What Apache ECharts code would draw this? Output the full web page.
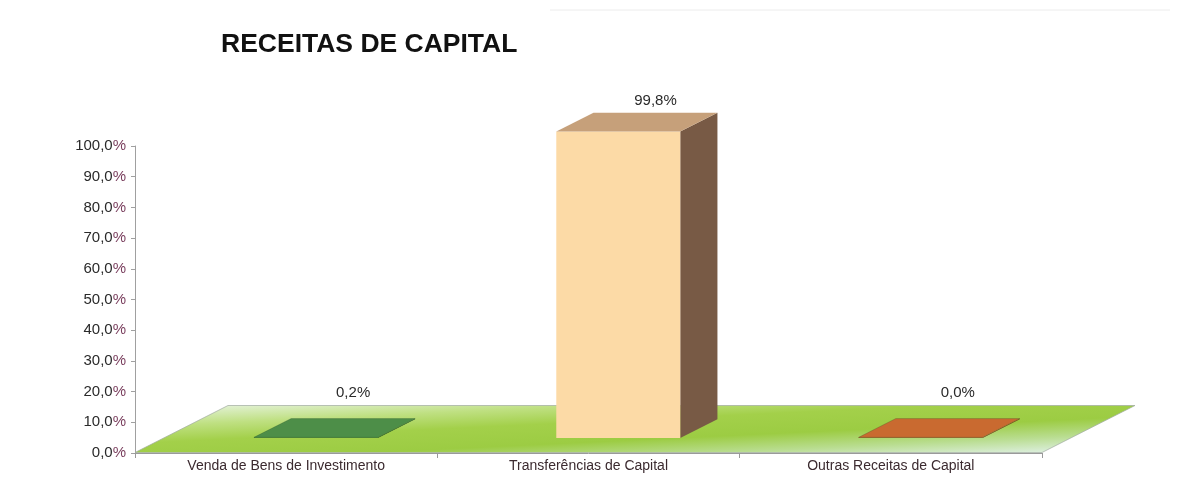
<!DOCTYPE html>
<html>
<head>
<meta charset="utf-8">
<script src="https://cdn.jsdelivr.net/npm/echarts@6/dist/echarts.min.js"></script>
<style>
  html, body { margin: 0; padding: 0; background: #ffffff; }
  #chart { width: 1181px; height: 501px; }
</style>
</head>
<body>
<div id="chart"></div>
<script>
// ---- data ----
const titleText = 'RECEITAS DE CAPITAL';
const categories = ['Venda de Bens de Investimento', 'Transferências de Capital', 'Outras Receitas de Capital'];
const values = [0.2, 99.8, 0.0];
const valueLabels = ['0,2%', '99,8%', '0,0%'];
const yTickValues = [0, 10, 20, 30, 40, 50, 60, 70, 80, 90, 100];
const yTickLabels = ['0,0%', '10,0%', '20,0%', '30,0%', '40,0%', '50,0%', '60,0%', '70,0%', '80,0%', '90,0%', '100,0%'];

// ---- styles ----
const palettes = [
  { front: '#3f7b3b', top: '#4d8e48', side: '#2f5f2c' },
  { front: '#fcdaa6', top: '#c6a07a', side: '#785a45' },
  { front: '#a9521f', top: '#c96a30', side: '#86421a' }
];
const FONT = 'Liberation Sans, Arial, sans-serif';
const FLOOR_DEPTH = [93, -47];      // screen vector of the full floor depth
const BAR_FRONT = 0.32;             // bar front plane (fraction of depth)
const BAR_BACK = 0.72;              // bar back plane
const BAR_WIDTH = 0.41;             // fraction of category width

const chart = echarts.init(document.getElementById('chart'), null, { renderer: 'canvas' });

function renderFloor(params, api) {
  const cs = params.coordSys;
  const p0 = api.coord([0, 0]);
  const yFront = p0[1] - 0.5;
  const xl = cs.x, xr = cs.x + cs.width;
  const dx = FLOOR_DEPTH[0], dy = FLOOR_DEPTH[1];
  const pts = [[xl, yFront], [xr, yFront], [xr + dx, yFront + dy], [xl + dx, yFront + dy]];
  const ax = pts[0][0], ay = pts[0][1], bx = pts[2][0], by = pts[2][1];
  const len = Math.hypot(bx - ax, by - ay);
  const nx = -(by - ay) / len, ny = (bx - ax) / len;
  const mx = (ax + bx) / 2, my = (ay + by) / 2;
  const d = 46;
  const grad = new echarts.graphic.LinearGradient(
    mx - nx * d, my - ny * d, mx + nx * d, my + ny * d,
    [
      { offset: 0, color: '#e8f4e2' },
      { offset: 0.22, color: '#bfe082' },
      { offset: 0.4, color: '#a3d04a' },
      { offset: 0.62, color: '#9ccc43' },
      { offset: 0.8, color: '#b9dd90' },
      { offset: 1, color: '#e4f3ef' }
    ], true);
  return {
    type: 'polygon',
    shape: { points: pts },
    style: { fill: grad, stroke: 'rgba(160,170,160,0.7)', lineWidth: 1 },
    silent: true
  };
}

function renderBar(params, api) {
  const i = api.value(0);
  const v = api.value(1);
  const base = api.coord([i, 0]);
  const top = api.coord([i, v]);
  const cw = api.size([1, 0])[0];
  const w = cw * BAR_WIDTH;
  const fx = FLOOR_DEPTH[0] * BAR_FRONT, fy = FLOOR_DEPTH[1] * BAR_FRONT;
  const bx = FLOOR_DEPTH[0] * (BAR_BACK - BAR_FRONT), by = FLOOR_DEPTH[1] * (BAR_BACK - BAR_FRONT);
  const x0 = base[0] - w / 2 + fx, x1 = x0 + w;
  const yb = base[1] + fy;
  const yt = Math.min(top[1] + fy, yb - 0.6);
  const pal = palettes[params.dataIndex];
  const small = (yb - yt) < 10;
  const children = [];
  children.push({
    type: 'polygon',
    shape: { points: [[x1, yb], [x1 + bx, yb + by], [x1 + bx, yt + by], [x1, yt]] },
    style: { fill: pal.side }
  });
  children.push({
    type: 'rect',
    shape: { x: x0, y: yt, width: w, height: yb - yt },
    style: { fill: pal.front }
  });
  children.push({
    type: 'polygon',
    shape: { points: [[x0, yt], [x1, yt], [x1 + bx, yt + by], [x0 + bx, yt + by]] },
    style: { fill: pal.top, stroke: small ? 'rgba(40,80,40,0.25)' : null, lineWidth: 1 }
  });
  // label centred above the back edge of the top face
  const lx = x0 + w / 2 + bx;
  const ly = yt + by - (small ? 26 : 12);
  children.push({
    type: 'text',
    style: {
      text: valueLabels[params.dataIndex],
      x: lx, y: ly,
      align: 'center', verticalAlign: 'middle',
      font: '15px ' + FONT,
      fill: '#2a2a2a'
    }
  });
  return { type: 'group', children: children };
}

const option = {
  backgroundColor: '#ffffff',
  animation: false,
  title: {
    text: titleText,
    left: 216,
    top: 26,
    textStyle: { fontFamily: FONT, fontSize: 26.5, fontWeight: 'bold', color: '#111111' }
  },
  graphic: [{
    type: 'line',
    shape: { x1: 550, y1: 10, x2: 1170, y2: 10 },
    style: { stroke: '#ececec', lineWidth: 1 },
    silent: true
  }],
  grid: { left: 135, right: 139, top: 146, bottom: 48 },
  xAxis: {
    type: 'category',
    data: categories,
    boundaryGap: true,
    axisLine: { show: true, lineStyle: { color: '#9a9a9a', width: 1 } },
    axisTick: { show: true, length: 5, lineStyle: { color: '#9a9a9a' } },
    axisLabel: { fontFamily: FONT, fontSize: 14, color: '#3b2a2f', margin: 6 },
    z: 5
  },
  yAxis: {
    type: 'value',
    min: 0, max: 100, interval: 10,
    splitLine: { show: false },
    axisLine: { show: true, lineStyle: { color: '#a0a0a0', width: 1 } },
    axisTick: { show: true, length: 4, lineStyle: { color: '#a0a0a0' } },
    axisLabel: {
      margin: 9,
      formatter: function (val) {
        const k = yTickValues.indexOf(val);
        const s = k >= 0 ? yTickLabels[k] : '';
        return '{n|' + s.slice(0, -1) + '}{p|%}';
      },
      rich: {
        n: { fontFamily: FONT, fontSize: 15, color: '#2a2a2a' },
        p: { fontFamily: FONT, fontSize: 15, color: '#7a3f5e' }
      }
    }
  },
  series: [
    {
      type: 'custom',
      name: 'floor',
      coordinateSystem: 'cartesian2d',
      clip: false,
      silent: true,
      z: 1,
      data: [[0, 0]],
      renderItem: renderFloor
    },
    {
      type: 'custom',
      name: 'Receitas',
      coordinateSystem: 'cartesian2d',
      clip: false,
      z: 3,
      data: values.map((v, i) => [i, v]),
      renderItem: renderBar
    }
  ]
};
chart.setOption(option);
</script>
</body>
</html>
